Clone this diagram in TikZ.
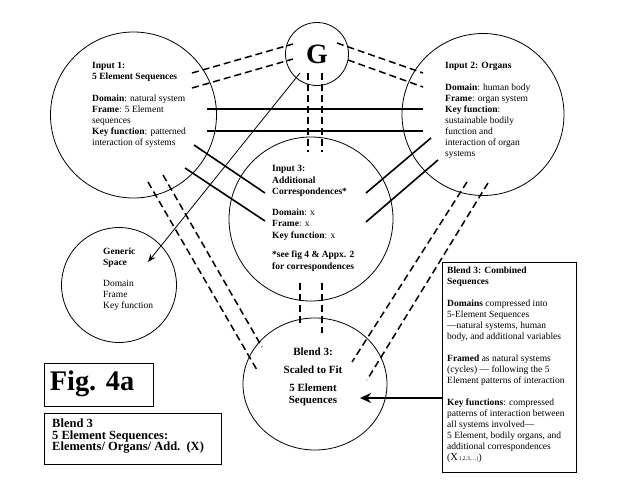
\documentclass[tikz,border=0pt]{standalone}
\usepackage{fontspec}
\setmainfont{Liberation Serif}
\usetikzlibrary{arrows.meta,shapes.geometric}
\begin{document}
\begin{tikzpicture}[x=1pt,y=-1pt,
  circ/.style={draw,circle,line width=0.8pt,inner sep=0},
  txt/.style={anchor=north west,inner sep=0,align=left,font=\fontsize{9.5}{11}\selectfont},
  solidline/.style={line width=1.6pt},
  dashline/.style={line width=1.5pt,dash pattern=on 7pt off 4pt},
  boxed/.style={draw,line width=1pt}]
\useasboundingbox (0,0) rectangle (638,493);

% circles
\node[circ,minimum size=166pt] (in1) at (133.5,115) {};
\node[circ,minimum size=162pt] (in2) at (483,114.5) {};
\node[circ,minimum size=164pt] (in3) at (311,219) {};
\node[circ,minimum size=115pt] (gen) at (119,285) {};
\node[circ,minimum size=63pt,font=\fontsize{28}{28}\selectfont\bfseries] (g) at (317,54) {G};
\node[draw,ellipse,line width=0.8pt,inner sep=0,minimum width=144pt,minimum height=132pt] (bl) at (315,384) {};

% texts
\node[txt] (t1) at (92,62.5) {\textbf{Input 1:}\\ \textbf{5 Element Sequences}\\[11pt]
\textbf{Domain}: natural system\\ \textbf{Frame}: 5 Element\\ sequences\\
\textbf{Key function}: patterned\\ interaction of systems};
\node[txt] (t2) at (445,62.5) {\textbf{Input 2: Organs}\\[11pt]
\textbf{Domain}: human body\\ \textbf{Frame}: organ system\\ \textbf{Key function}:\\
sustainable bodily\\ function and\\ interaction of organ\\ systems};
\node[txt,font=\fontsize{9.5}{11.5}\selectfont] (t3) at (272,165.5) {\textbf{Input 3:}\\ \textbf{Additional}\\ \textbf{Correspondences*}\\[9pt]
\textbf{Domain}: x\\ \textbf{Frame}: x\\ \textbf{Key function}: x\\[8pt]
\textbf{*see fig 4 \& Appx. 2}\\ \textbf{for correspondences}};
\node[txt] (tg) at (103,247.5) {\textbf{Generic}\\ \textbf{Space}\\[10pt]
Domain\\ Frame\\ Key function};
\node[anchor=north,inner sep=0,align=center,font=\fontsize{11}{12}\selectfont\bfseries] (tb) at (313,347.5) {Blend 3:\\[6pt] Scaled to Fit\\[6.5pt] 5 Element\\ Sequences};

% right box
\node[boxed,anchor=north west,minimum width=134pt,minimum height=210pt] (rb) at (442,262) {};
\node[txt] (trb) at (447,266.5) {\textbf{Blend 3: Combined}\\ \textbf{Sequences}\\[11pt]
\textbf{Domains} compressed into\\ 5-Element Sequences\\ ---natural systems, human\\ body, and additional variables\\[11pt]
\textbf{Framed} as natural systems\\ (cycles) --- following the 5\\ Element patterns of interaction\\[11pt]
\textbf{Key functions}: compressed\\ patterns of interaction between\\ all systems involved---\\ 5 Element, bodily organs, and\\ additional correspondences\\ ({\fontsize{10.5}{11}\selectfont X}{\fontsize{5.5}{6}\selectfont\,1,2,3,\dots)})};

% fig box
\node[boxed,anchor=north west,minimum width=109pt,minimum height=43pt] (fb) at (44,363) {};
\node[inner sep=0,font=\fontsize{28.4}{28}\selectfont\bfseries] (tf) at (92,384) {Fig. 4a};
\node[boxed,anchor=north west,minimum width=177pt,minimum height=51pt] (bb) at (44,413) {};
\node[txt,font=\fontsize{12.5}{11.7}\selectfont\bfseries] (tbb) at (52,418.5) {Blend 3\\ 5 Element Sequences:\\ Elements/ Organs/ Add.\ \ (X)};

% connector ends
\coordinate (a1) at (192,73);  \coordinate (a2) at (293,44);
\coordinate (b1) at (192,88);  \coordinate (b2) at (293,59);
\coordinate (c1) at (337,43);  \coordinate (c2) at (423,73);
\coordinate (d1) at (348,60);  \coordinate (d2) at (423,87);
\coordinate (e1) at (308,73);  \coordinate (e2) at (308,152);
\coordinate (f1) at (322,73);  \coordinate (f2) at (322,152);
\coordinate (h1) at (207,109); \coordinate (h2) at (423,109);
\coordinate (i1) at (207,131); \coordinate (i2) at (423,131);
\coordinate (j1) at (194,145); \coordinate (j2) at (265,193);
\coordinate (k1) at (185,168); \coordinate (k2) at (265,221);
\coordinate (l1) at (431,138); \coordinate (l2) at (366,193);
\coordinate (m1) at (438,160); \coordinate (m2) at (366,222);
\coordinate (n1) at (148,182); \coordinate (n2) at (257,370);
\coordinate (o1) at (163,175); \coordinate (o2) at (262,347);
\coordinate (p1) at (467,182); \coordinate (p2) at (352,362);
\coordinate (q1) at (488,183); \coordinate (q2) at (367,380);
\coordinate (r1) at (300,283); \coordinate (r2) at (300,326);
\coordinate (s1) at (322,283); \coordinate (s2) at (322,333);
\coordinate (ga) at (300,73);  \coordinate (gb) at (148,262);
\coordinate (ba) at (442,398); \coordinate (bt) at (360,398);

\draw[dashline] (a1) -- (a2);
\draw[dashline] (b1) -- (b2);
\draw[dashline] (c1) -- (c2);
\draw[dashline] (d1) -- (d2);
\draw[dashline] (e1) -- (e2);
\draw[dashline] (f1) -- (f2);
\draw[solidline] (h1) -- (h2);
\draw[solidline] (i1) -- (i2);
\draw[solidline] (j1) -- (j2);
\draw[solidline] (k1) -- (k2);
\draw[solidline] (l1) -- (l2);
\draw[solidline] (m1) -- (m2);
\draw[dashline] (n1) -- (n2);
\draw[dashline] (o1) -- (o2);
\draw[dashline] (p1) -- (p2);
\draw[dashline] (q1) -- (q2);
\draw[dashline] (r1) -- (r2);
\draw[dashline] (s1) -- (s2);
\draw[line width=0.8pt,-{Stealth[length=8pt,width=6pt]}] (ga) -- (gb);
\draw[line width=2.5pt,-{Stealth[length=11pt,width=10pt]}] (ba) -- (bt);
\end{tikzpicture}
\end{document}
